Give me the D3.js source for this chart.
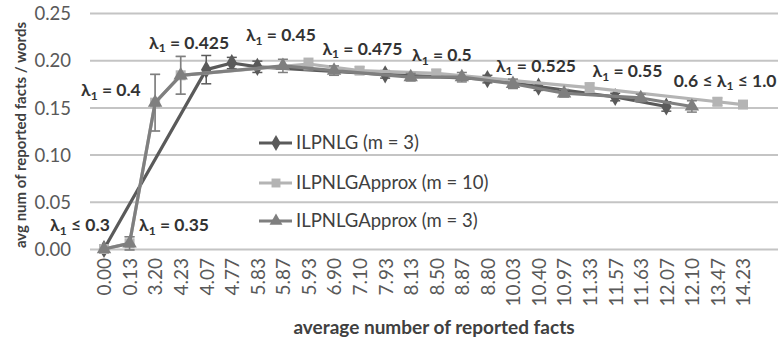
<!DOCTYPE html>
<html>
<head>
<meta charset="utf-8">
<script src="https://cdn.jsdelivr.net/npm/d3@7"></script>
<style>
  html, body { margin: 0; padding: 0; background: #fff; }
  svg { display: block; font-family: Lato, "Open Sans", sans-serif; }
</style>
</head>
<body>
<svg id="chart" width="783" height="342"></svg>
<script>
// Category axis: average number of reported facts
const categories = ["0.00","0.13","3.20","4.23","4.07","4.77","5.83","5.87","5.93","6.90","7.10","7.93","8.13","8.50","8.87","8.80","10.03","10.40","10.97","11.33","11.57","11.63","12.07","12.10","13.47","14.23"];

// avg num of reported facts / words per series (null = no value at that category)
const ilpnlg   = [0, null, null, null, 0.190, 0.197, 0.193, null, null, null, null, 0.185, null, null, null, 0.180, null, 0.172, null, null, 0.161, null, 0.151, null, null, null];
const approx10 = [0, 0.006, 0.155, 0.184, null, null, null, null, 0.196, null, 0.189, null, null, 0.186, null, null, null, null, null, 0.171, null, null, null, null, 0.156, 0.153];
const approx3  = [0, 0.006, 0.155, 0.184, null, null, null, 0.194, null, 0.189, null, null, 0.182, null, 0.182, null, 0.175, null, 0.165, null, null, 0.160, null, 0.151, null, null];

// error-bar half widths
const ilpnlgErr   = [0, 0, 0, 0, 0.015, 0.006, 0.006, 0, 0, 0, 0, 0.004, 0, 0, 0, 0.004, 0, 0.004, 0, 0, 0.004, 0, 0.005, 0, 0, 0];
const approx10Err = [0, 0.007, 0.030, 0.020, 0, 0, 0, 0, 0.006, 0, 0.004, 0, 0, 0.004, 0, 0, 0, 0, 0, 0.005, 0, 0, 0, 0, 0.004, 0.003];
const approx3Err  = [0, 0.007, 0.030, 0.020, 0, 0, 0, 0.007, 0, 0.005, 0, 0, 0.004, 0, 0.005, 0, 0.005, 0, 0.004, 0, 0, 0.004, 0, 0.006, 0, 0];

const seriesNames = ["ILPNLG (m = 3)", "ILPNLGApprox (m = 10)", "ILPNLGApprox (m = 3)"];
const yTicks = [0, 0.05, 0.10, 0.15, 0.20, 0.25];

// λ1 annotations: prefix, relation, position in category-index units and value units
const lambdaPre  = ["", "", "", "", "", "", "", "", "", "0.6 ≤ "];
const lambdaRel  = ["≤ 0.3", "= 0.35", "= 0.4", "= 0.425", "= 0.45", "= 0.475", "= 0.5", "= 0.525", "= 0.55", "≤ 1.0"];
const lambdaIdx  = [-0.94, 2.74, 0.27, 3.33, 6.92, 10.11, 13.22, 16.9, 20.48, 24.3];
const lambdaVal  = [0.019, 0.019, 0.162, 0.212, 0.220, 0.206, 0.199, 0.188, 0.182, 0.172];

const colors = ["#5a5a5a", "#b4b4b4", "#7f7f7f"];
const symbols = [d3.symbolDiamond, d3.symbolSquare, d3.symbolTriangle];
const symbolSizes = [95, 100, 90];

const svg = d3.select("#chart");
const plot = { left: 90, right: 778 };

const x = d3.scalePoint().domain(categories).range([104, 743]);
const xi = d3.scaleLinear().domain([0, categories.length - 1]).range([104, 743]);
const y = d3.scaleLinear().domain([0, 0.25]).range([249, 13]);

// horizontal gridlines with value labels
const yAxis = d3.axisLeft(y).tickValues(yTicks).tickFormat(d3.format(".2f"))
  .tickSize(-(plot.right - plot.left)).tickPadding(19);
const gy = svg.append("g").attr("transform", `translate(${plot.left},0)`).call(yAxis);
gy.select(".domain").remove();
gy.selectAll(".tick line").attr("stroke", "#c4c4c4").attr("stroke-width", 2);
gy.selectAll(".tick text").attr("fill", "#595959").attr("font-size", 18.5)
  .attr("font-family", "Lato, sans-serif").attr("dy", "0.36em");

// category labels, rotated
const xAxis = d3.axisBottom(x).tickSize(0).tickPadding(0);
const gx = svg.append("g").attr("transform", "translate(0,256)").call(xAxis);
gx.select(".domain").remove();
gx.selectAll(".tick text")
  .attr("fill", "#595959").attr("font-size", 19).attr("font-family", "Lato, sans-serif")
  .attr("transform", "rotate(-90)")
  .attr("text-anchor", "end").attr("x", -2).attr("y", 0).attr("dy", "0.36em");

// axis titles
svg.append("text").attr("x", 434).attr("y", 334).attr("text-anchor", "middle")
  .attr("font-weight", "bold").attr("font-size", 19).attr("fill", "#404040")
  .text("average number of reported facts");
svg.append("text").attr("transform", "translate(26,135) rotate(-90)").attr("text-anchor", "middle")
  .attr("font-weight", "bold").attr("font-size", 15).attr("fill", "#404040")
  .text("avg num of reported facts / words");

const allSeries = [
  { values: ilpnlg, err: ilpnlgErr },
  { values: approx10, err: approx10Err },
  { values: approx3, err: approx3Err }
];

const line = d3.line()
  .defined(d => d.v !== null)
  .x(d => x(d.c)).y(d => y(d.v));

allSeries.forEach((s, k) => {
  const pts = categories.map((c, i) => ({ c, v: s.values[i], e: s.err[i] })).filter(d => d.v !== null);
  const g = svg.append("g");
  g.append("path").datum(pts).attr("d", line)
    .attr("fill", "none").attr("stroke", colors[k]).attr("stroke-width", 3.2)
    .attr("stroke-linejoin", "round");
  // error bars
  const eb = g.selectAll(".eb").data(pts.filter(d => d.e > 0)).join("g");
  eb.append("line").attr("x1", d => x(d.c)).attr("x2", d => x(d.c))
    .attr("y1", d => y(d.v - d.e)).attr("y2", d => y(d.v + d.e))
    .attr("stroke", colors[k]).attr("stroke-width", 1.5);
  [-1, 1].forEach(sg => {
    eb.append("line").attr("x1", d => x(d.c) - 5).attr("x2", d => x(d.c) + 5)
      .attr("y1", d => y(d.v + sg * d.e)).attr("y2", d => y(d.v + sg * d.e))
      .attr("stroke", colors[k]).attr("stroke-width", 1.5);
  });
  g.selectAll(".m").data(pts).join("path")
    .attr("transform", d => `translate(${x(d.c)},${y(d.v)})`)
    .attr("d", d3.symbol().type(symbols[k]).size(symbolSizes[k]))
    .attr("fill", colors[k]);
});

// λ1 annotations
lambdaRel.forEach((rel, i) => {
  const t = svg.append("text")
    .attr("x", xi(lambdaIdx[i])).attr("y", y(lambdaVal[i]))
    .attr("text-anchor", "middle").attr("font-weight", "bold")
    .attr("font-size", 17.5).attr("fill", "#333");
  if (lambdaPre[i]) t.append("tspan").text(lambdaPre[i]);
  t.append("tspan").text("λ");
  t.append("tspan").attr("font-size", 12).attr("dy", 3.5).text("1");
  t.append("tspan").attr("dy", -3.5).text(" " + rel);
});

// legend
const legendY = [143, 183, 221];
seriesNames.forEach((name, k) => {
  const g = svg.append("g").attr("transform", `translate(0,${legendY[k]})`);
  g.append("line").attr("x1", 259).attr("x2", 292).attr("y1", 0).attr("y2", 0)
    .attr("stroke", colors[k]).attr("stroke-width", 3);
  g.append("path").attr("transform", "translate(276,0)")
    .attr("d", d3.symbol().type(symbols[k]).size(symbolSizes[k] * 0.8)).attr("fill", colors[k]);
  g.append("text").attr("x", 296).attr("y", 0).attr("dy", "0.35em")
    .attr("font-size", 18.5).attr("fill", "#404040").text(name);
});
</script>
</body>
</html>
